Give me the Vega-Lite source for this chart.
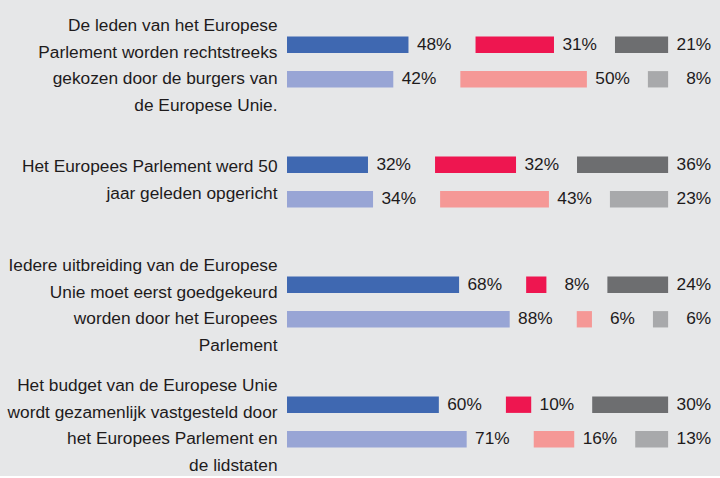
{
  "$schema": "https://vega.github.io/schema/vega-lite/v6.json",
  "width": 433,
  "height": 476,
  "autosize": {"type": "none"},
  "padding": {"left": 287, "right": 0, "top": 0, "bottom": 0},
  "background": "#e6e7e8",
  "config": {"view": {"stroke": null}},
  "data": {
    "values": [
      {"q": "De leden van het Europese|Parlement worden rechtstreeks|gekozen door de burgers van|de Europese Unie.", "reeks": "A", "antwoord": "Juist", "v": 48},
      {"q": "De leden van het Europese|Parlement worden rechtstreeks|gekozen door de burgers van|de Europese Unie.", "reeks": "A", "antwoord": "Onjuist", "v": 31},
      {"q": "De leden van het Europese|Parlement worden rechtstreeks|gekozen door de burgers van|de Europese Unie.", "reeks": "A", "antwoord": "Weet niet", "v": 21},
      {"q": "De leden van het Europese|Parlement worden rechtstreeks|gekozen door de burgers van|de Europese Unie.", "reeks": "B", "antwoord": "Juist", "v": 42},
      {"q": "De leden van het Europese|Parlement worden rechtstreeks|gekozen door de burgers van|de Europese Unie.", "reeks": "B", "antwoord": "Onjuist", "v": 50},
      {"q": "De leden van het Europese|Parlement worden rechtstreeks|gekozen door de burgers van|de Europese Unie.", "reeks": "B", "antwoord": "Weet niet", "v": 8},
      {"q": "Het Europees Parlement werd 50|jaar geleden opgericht", "reeks": "A", "antwoord": "Juist", "v": 32},
      {"q": "Het Europees Parlement werd 50|jaar geleden opgericht", "reeks": "A", "antwoord": "Onjuist", "v": 32},
      {"q": "Het Europees Parlement werd 50|jaar geleden opgericht", "reeks": "A", "antwoord": "Weet niet", "v": 36},
      {"q": "Het Europees Parlement werd 50|jaar geleden opgericht", "reeks": "B", "antwoord": "Juist", "v": 34},
      {"q": "Het Europees Parlement werd 50|jaar geleden opgericht", "reeks": "B", "antwoord": "Onjuist", "v": 43},
      {"q": "Het Europees Parlement werd 50|jaar geleden opgericht", "reeks": "B", "antwoord": "Weet niet", "v": 23},
      {"q": "Iedere uitbreiding van de Europese|Unie moet eerst goedgekeurd|worden door het Europees|Parlement", "reeks": "A", "antwoord": "Juist", "v": 68},
      {"q": "Iedere uitbreiding van de Europese|Unie moet eerst goedgekeurd|worden door het Europees|Parlement", "reeks": "A", "antwoord": "Onjuist", "v": 8},
      {"q": "Iedere uitbreiding van de Europese|Unie moet eerst goedgekeurd|worden door het Europees|Parlement", "reeks": "A", "antwoord": "Weet niet", "v": 24},
      {"q": "Iedere uitbreiding van de Europese|Unie moet eerst goedgekeurd|worden door het Europees|Parlement", "reeks": "B", "antwoord": "Juist", "v": 88},
      {"q": "Iedere uitbreiding van de Europese|Unie moet eerst goedgekeurd|worden door het Europees|Parlement", "reeks": "B", "antwoord": "Onjuist", "v": 6},
      {"q": "Iedere uitbreiding van de Europese|Unie moet eerst goedgekeurd|worden door het Europees|Parlement", "reeks": "B", "antwoord": "Weet niet", "v": 6},
      {"q": "Het budget van de Europese Unie|wordt gezamenlijk vastgesteld door|het Europees Parlement en|de lidstaten", "reeks": "A", "antwoord": "Juist", "v": 60},
      {"q": "Het budget van de Europese Unie|wordt gezamenlijk vastgesteld door|het Europees Parlement en|de lidstaten", "reeks": "A", "antwoord": "Onjuist", "v": 10},
      {"q": "Het budget van de Europese Unie|wordt gezamenlijk vastgesteld door|het Europees Parlement en|de lidstaten", "reeks": "A", "antwoord": "Weet niet", "v": 30},
      {"q": "Het budget van de Europese Unie|wordt gezamenlijk vastgesteld door|het Europees Parlement en|de lidstaten", "reeks": "B", "antwoord": "Juist", "v": 71},
      {"q": "Het budget van de Europese Unie|wordt gezamenlijk vastgesteld door|het Europees Parlement en|de lidstaten", "reeks": "B", "antwoord": "Onjuist", "v": 16},
      {"q": "Het budget van de Europese Unie|wordt gezamenlijk vastgesteld door|het Europees Parlement en|de lidstaten", "reeks": "B", "antwoord": "Weet niet", "v": 13}
    ]
  },
  "transform": [
    {"window": [{"op": "sum", "field": "v", "as": "cum"}, {"op": "row_number", "as": "k"}], "groupby": ["q", "reeks"], "sort": [{"field": "antwoord", "order": "ascending"}], "frame": [null, 0]},
    {"calculate": "datum.cum - datum.v + (datum.k == 1 ? 0 : datum.k == 2 ? 26.5 : 50.6)", "as": "x0"},
    {"calculate": "datum.x0 + datum.v", "as": "x1"},
    {"calculate": "datum.antwoord + ' ' + datum.reeks", "as": "grp"},
    {"calculate": "datum.v + '%'", "as": "lab"}
  ],
  "encoding": {
    "y": {
      "field": "q", "type": "nominal", "sort": null,
      "scale": {"range": [2, 482], "paddingInner": 0, "paddingOuter": 0},
      "axis": {
        "title": null, "domain": false, "ticks": false, "grid": false,
        "labelExpr": "split(datum.label, '|')",
        "labelFont": "Liberation Sans", "labelFontSize": 17.3, "labelColor": "#1e1b1c",
        "labelLineHeight": 26.5, "labelPadding": 10, "labelLimit": 400,
        "labelAlign": "right", "labelBaseline": "middle",
        "labelOffset": {"condition": {"test": "length(split(datum.value, '|')) > 2", "value": -36}, "value": -15}
      }
    },
    "yOffset": {
      "field": "reeks", "type": "nominal",
      "scale": {"paddingInner": 0.527, "paddingOuter": 1.156}
    }
  },
  "layer": [
    {
      "mark": {"type": "bar"},
      "encoding": {
        "x": {"field": "x0", "type": "quantitative", "scale": {"domain": [0, 171.1], "nice": false, "zero": true}, "axis": null},
        "x2": {"field": "x1"},
        "color": {
          "field": "grp", "type": "nominal", "legend": null,
          "scale": {
            "domain": ["Juist A", "Onjuist A", "Weet niet A", "Juist B", "Onjuist B", "Weet niet B"],
            "range": ["#3f68b1", "#ee1650", "#6d6e70", "#98a5d5", "#f59896", "#a8a9ab"]
          }
        }
      }
    },
    {
      "mark": {"type": "text", "align": "right", "baseline": "middle", "dx": 43, "font": "Liberation Sans", "fontSize": 17.3, "color": "#1e1b1c"},
      "encoding": {
        "x": {"field": "x1", "type": "quantitative"},
        "text": {"field": "lab"}
      }
    }
  ]
}
